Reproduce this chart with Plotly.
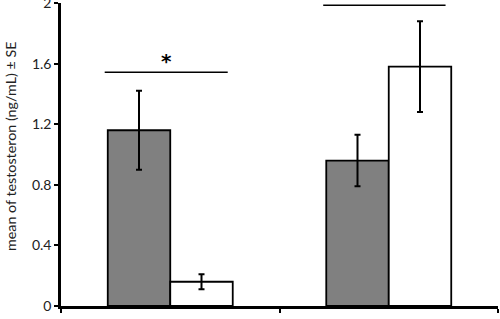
import plotly.graph_objects as go

categories = [0, 1]
gray_vals = [1.16, 0.96]
gray_err = [0.26, 0.17]
white_vals = [0.16, 1.58]
white_err = [0.05, 0.30]
y_ticks = [0, 0.4, 0.8, 1.2, 1.6, 2]
y_tick_labels = ["0", "0.4", "0.8", "1.2", "1.6", "2"]
sig_lines = [(-0.3, 0.263, 1.543), (0.7, 1.26, 1.985)]
sig_marks = [(-0.015, 1.62, "*")]
y_title = "mean of testosteron (ng/mL) ± SE"

fig = go.Figure()
fig.add_trace(go.Bar(
    x=categories, y=gray_vals,
    marker=dict(color="#808080", line=dict(color="black", width=1.8)),
    error_y=dict(type="data", array=gray_err, color="black", thickness=2, width=3),
))
fig.add_trace(go.Bar(
    x=categories, y=white_vals,
    marker=dict(color="white", line=dict(color="black", width=1.8)),
    error_y=dict(type="data", array=white_err, color="black", thickness=2, width=3),
))

for x0, x1, yv in sig_lines:
    fig.add_shape(type="line", xref="x", yref="y", x0=x0, x1=x1, y0=yv, y1=yv,
                  line=dict(color="black", width=1.5))
for xv, yv, t in sig_marks:
    fig.add_annotation(x=xv, y=yv, xref="x", yref="y", text="<b>" + t + "</b>", showarrow=False,
                       font=dict(size=20, color="black", family="DejaVu Sans"))

fig.add_annotation(xref="paper", yref="paper", x=-0.1167, y=0.528, text=y_title,
                   textangle=-90, showarrow=False, xanchor="center", yanchor="middle",
                   font=dict(size=14.3, color="#222", family="Lato"))

fig.update_layout(
    width=500, height=319,
    margin=dict(l=61, r=2, t=3, b=13),
    paper_bgcolor="white", plot_bgcolor="white",
    barmode="group", bargap=0.428, bargroupgap=0,
    showlegend=False,
    font=dict(family="Lato", size=13, color="#222"),
    xaxis=dict(range=[-0.5, 1.5], tickvals=[-0.5, 0.5, 1.5], ticktext=["", "", ""],
               ticks="outside", ticklen=4, tickwidth=2, tickcolor="black", automargin=False,
               showline=True, linecolor="black", linewidth=2.5, showgrid=False, zeroline=False),
    yaxis=dict(range=[0, 2], tickvals=y_ticks, ticktext=y_tick_labels,
               ticks="outside", ticklen=4, tickwidth=2, tickcolor="black", automargin=False,
               ticklabeloverflow="allow",
               showline=True, linecolor="black", linewidth=2.5, showgrid=False, zeroline=False,
               tickfont=dict(size=14, color="#222")),
)

fig.write_html("out.html", config={"displayModeBar": False},
               post_script="document.body.style.margin='0';")
